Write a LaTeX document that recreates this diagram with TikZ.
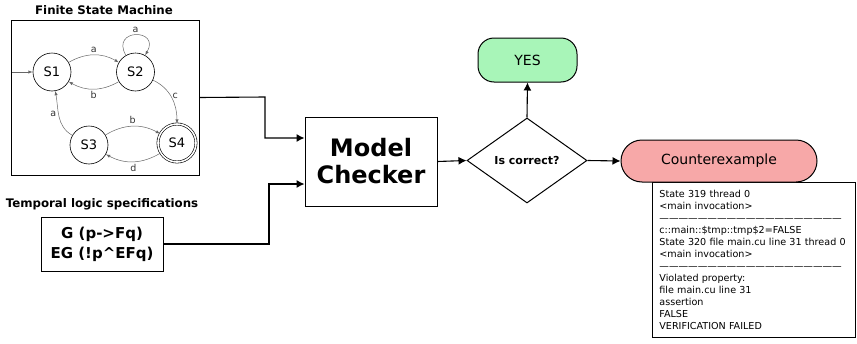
\documentclass[tikz,border=0pt]{standalone}
\usepackage{fontspec}
\setmainfont{DejaVu Sans}
\usetikzlibrary{shapes, arrows, arrows.meta, calc, positioning}

\definecolor{yesgreen}{HTML}{A8F5B8}
\definecolor{cepink}{HTML}{F7A8A8}

\begin{document}
\begin{tikzpicture}[>=latex, x=1pt, y=-1pt,
  state/.style={circle, draw, line width=0.6pt, minimum size=38pt, inner sep=0pt, font=\fontsize{13}{15}\selectfont},
  trans/.style={->, draw=black!60, line width=0.5pt},
  lbl/.style={font=\fontsize{9.5}{10}\selectfont, text=black!80, inner sep=2pt},
  title/.style={font=\fontsize{11.8}{13}\selectfont\bfseries},
  block/.style={draw, line width=1pt, inner sep=0pt},
  link/.style={-{Latex[length=8pt, width=8pt]}, line width=1.1pt}]
  \useasboundingbox (0,0) rectangle (857,343);

  \node[title] (fsm-title) at (104,10) {Finite State Machine};
  \node[draw, line width=0.8pt, minimum width=188pt, minimum height=155pt] (fsm) at (105,97.5) {};

  \node[state] (s1) at (52,72) {S1};
  \node[state] (s2) at (135.5,72) {S2};
  \node[state] (s3) at (89,145) {S3};
  \node[state, double, double distance=1.6pt] (s4) at (177,143) {S4};

  \coordinate (start) at (12,72);
  \draw[trans] (start) -- (s1);
  \draw[trans] (s1) to[bend left=30] node[lbl, above] {a} (s2);
  \draw[trans] (s2) to[bend left=30] node[lbl, below] {b} (s1);
  \draw[trans] (s2) to[out=120, in=60, min distance=11mm] node[lbl, above] {a} (s2);
  \draw[trans] (s2) to[out=-25, in=90] node[lbl, right, pos=0.45] {c} (s4);
  \draw[trans] (s3) to[out=150, in=-80] node[lbl, left, pos=0.55] {a} (s1);
  \draw[trans] (s3) to[bend left=30] node[lbl, above] {b} (s4);
  \draw[trans] (s4) to[bend left=30] node[lbl, below] {d} (s3);

  \node[title] (spec-title) at (102,204) {Temporal logic specifications};
  \node[block, minimum width=122pt, minimum height=54pt, align=center,
        font=\fontsize{15}{20}\selectfont\bfseries] (spec) at (102,244)
        {G (p->Fq)\\EG (!p\textasciicircum EFq)};

  \node[block, minimum width=132pt, minimum height=89pt, align=center,
        font=\fontsize{24}{27}\selectfont\bfseries] (mc) at (371,161.5) {Model\\Checker};
  \coordinate (mc-in1) at (mc.west |- 0,138);
  \coordinate (mc-in2) at (mc.west |- 0,184);

  \node[block, diamond, aspect=1.4, minimum width=120pt, minimum height=85pt,
        font=\fontsize{11}{12}\selectfont\bfseries] (check) at (527,160.5) {Is correct?};

  \node[block, fill=yesgreen, rounded corners=16pt, minimum width=99pt, minimum height=44pt,
        font=\fontsize{14}{16}\selectfont] (yes) at (527.5,60) {YES};

  \node[draw, line width=0.8pt, anchor=north west, text width=189pt, inner xsep=7pt, inner ysep=8pt,
        align=left, font=\fontsize{9.6}{12}\selectfont] (trace) at (652,182)
    {State 319 thread 0\\
     <main invocation>\\
     ———————————————————\\
     c::main::\$tmp::tmp\$2=FALSE\\
     State 320 file main.cu line 31 thread 0\\
     <main invocation>\\
     ———————————————————\\
     Violated property:\\
     file main.cu line 31\\
     assertion\\
     FALSE\\
     VERIFICATION FAILED};

  \node[block, fill=cepink, rounded corners=21pt, minimum width=196pt, minimum height=42pt,
        font=\fontsize{14}{16}\selectfont] (cex) at (719,161) {Counterexample};

  \draw[link] (fsm.east) -- (265,97) |- (mc-in1);
  \draw[link] (spec.east) -- (269,244) |- (mc-in2);
  \draw[link] (mc.east) -- (check.west);
  \draw[link] (check.north) -- (yes.south);
  \draw[link] (check.east) -- (cex.west);
\end{tikzpicture}
\end{document}
